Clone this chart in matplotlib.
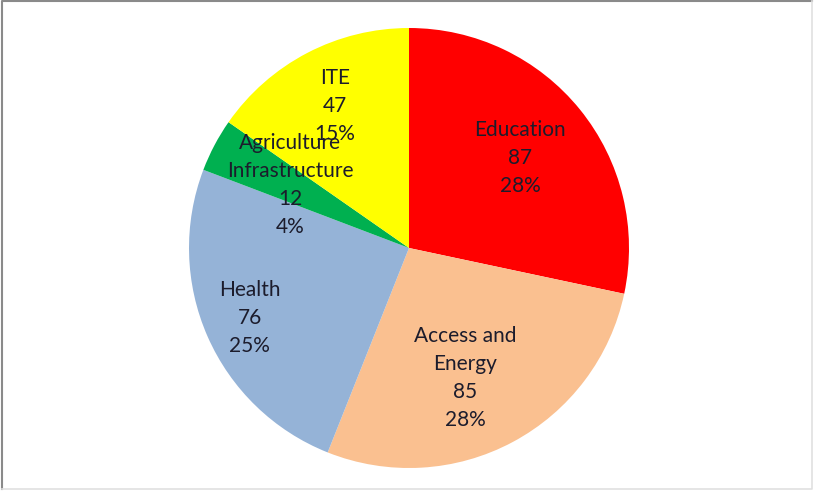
import numpy as np
import matplotlib
matplotlib.use('Agg')
import matplotlib.pyplot as plt
from matplotlib.lines import Line2D

# sectors and their budgets
sectors = ['Education', 'Access and\nEnergy', 'Health', 'Agriculture\nInfrastructure', 'ITE']
values = [87, 85, 76, 12, 47]
colors = ['#FF0000', '#FAC090', '#95B3D7', '#00B050', '#FFFF00']
# how far out each label sits, as a fraction of the radius
label_r = [0.65, 0.67, 0.79, 0.61, 0.73]

fig = plt.figure(figsize=(8.14, 4.93), dpi=100)
ax = fig.add_axes([(409 - 220) / 814, (493 - 248 - 220) / 493, 440 / 814, 440 / 493])

wedges, _ = ax.pie(values, colors=colors, startangle=90, counterclock=False,
                   radius=1, wedgeprops={'linewidth': 0})
ax.set_xlim(-1, 1)
ax.set_ylim(-1, 1)
ax.set_aspect('auto')
ax.axis('off')

total = sum(values)
for w, name, v, r in zip(wedges, sectors, values, label_r):
    mid = np.deg2rad((w.theta1 + w.theta2) / 2)
    pct = round(v / total * 100)
    x, y = r * np.cos(mid), r * np.sin(mid)
    if name.startswith('Access'):
        x -= 0.06  # pulled a little toward the middle
    ax.text(x, y, f'{name}\n{v}\n{pct}%',
            ha='center', va='center', fontsize=15, family='Lato',
            color='#1c1c2c', linespacing=1.5)

# outer frame: darker on the top and left, faint on the right and bottom
x0, x1, y0, y1 = 0.003, 0.998, 0.008, 0.997
fig.lines.append(Line2D([x0, x0, x1], [y0, y1, y1], transform=fig.transFigure,
                        color='#8a8a8a', linewidth=1.5))
fig.lines.append(Line2D([x1, x1, x0], [y1, y0, y0], transform=fig.transFigure,
                        color='#e0e0e0', linewidth=1.2))
fig.savefig('out.png', dpi=100)
